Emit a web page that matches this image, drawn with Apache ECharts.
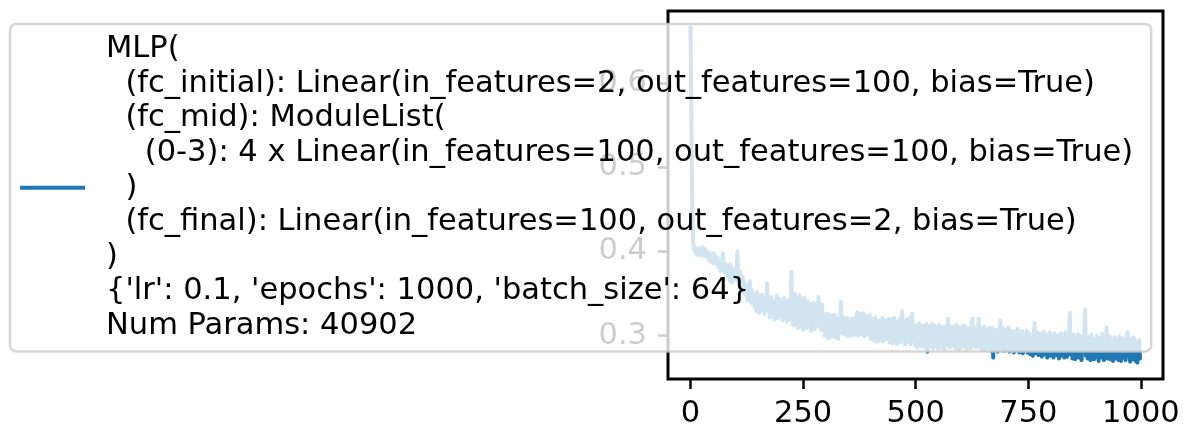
<!DOCTYPE html>
<html>
<head>
<meta charset="utf-8">
<script src="https://cdn.jsdelivr.net/npm/echarts@6/dist/echarts.min.js"></script>
<style>
  html, body { margin: 0; padding: 0; background: #fff; }
  #chart { width: 1190px; height: 440px; }
</style>
</head>
<body>
<div id="chart"></div>
<script>
// training loss, one reading every EPOCH_STEP epochs
// each row covers 20 epochs
const EPOCH_STEP = 2
const trainLoss = [
  0.667, 0.552, 0.448, 0.409, 0.401, 0.405, 0.397, 0.403, 0.396, 0.404,
  0.398, 0.402, 0.395, 0.405, 0.399, 0.396, 0.403, 0.394, 0.400, 0.397,
  0.390, 0.399, 0.388, 0.396, 0.392, 0.386, 0.398, 0.389, 0.394, 0.385,
  0.393, 0.381, 0.390, 0.377, 0.388, 0.383, 0.398, 0.376, 0.386, 0.379,
  0.384, 0.371, 0.380, 0.366, 0.385, 0.372, 0.363, 0.378, 0.368, 0.375,
  0.380, 0.366, 0.400, 0.371, 0.359, 0.376, 0.362, 0.356, 0.370, 0.351,
  0.364, 0.349, 0.360, 0.342, 0.357, 0.346, 0.365, 0.340, 0.355, 0.338,
  0.350, 0.335, 0.347, 0.329, 0.352, 0.338, 0.327, 0.344, 0.333, 0.349,
  0.330, 0.345, 0.326, 0.340, 0.336, 0.362, 0.331, 0.343, 0.322, 0.338,
  0.346, 0.325, 0.335, 0.319, 0.341, 0.328, 0.348, 0.321, 0.333, 0.344,
  0.324, 0.339, 0.318, 0.332, 0.345, 0.322, 0.336, 0.317, 0.342, 0.327,
  0.334, 0.319, 0.376, 0.330, 0.312, 0.338, 0.350, 0.314, 0.344, 0.309,
  0.335, 0.348, 0.311, 0.340, 0.326, 0.307, 0.345, 0.318, 0.332, 0.309,
  0.341, 0.314, 0.327, 0.338, 0.306, 0.330, 0.320, 0.339, 0.308, 0.325,
  0.336, 0.312, 0.346, 0.318, 0.330, 0.307, 0.337, 0.315, 0.326, 0.300,
  0.322, 0.308, 0.326, 0.297, 0.318, 0.311, 0.324, 0.299, 0.316, 0.305,
  0.325, 0.298, 0.313, 0.321, 0.296, 0.319, 0.307, 0.340, 0.303, 0.314,
  0.322, 0.301, 0.318, 0.305, 0.321, 0.299, 0.315, 0.310, 0.300, 0.320,
  0.304, 0.318, 0.301, 0.322, 0.308, 0.328, 0.300, 0.316, 0.326, 0.302,
  0.320, 0.305, 0.327, 0.299, 0.315, 0.323, 0.301, 0.318, 0.306, 0.325,
  0.296, 0.314, 0.320, 0.295, 0.309, 0.322, 0.293, 0.312, 0.301, 0.318,
  0.294, 0.316, 0.305, 0.321, 0.293, 0.310, 0.318, 0.296, 0.314, 0.302,
  0.320, 0.292, 0.311, 0.319, 0.291, 0.306, 0.321, 0.294, 0.313, 0.290,
  0.317, 0.301, 0.320, 0.292, 0.310, 0.329, 0.295, 0.316, 0.290, 0.312,
  0.319, 0.293, 0.308, 0.321, 0.290, 0.314, 0.326, 0.297, 0.311, 0.289,
  0.313, 0.298, 0.286, 0.310, 0.315, 0.290, 0.305, 0.287, 0.312, 0.296,
  0.309, 0.286, 0.314, 0.281, 0.301, 0.311, 0.288, 0.306, 0.314, 0.285,
  0.303, 0.312, 0.287, 0.298, 0.309, 0.285, 0.313, 0.292, 0.306, 0.286,
  0.310, 0.296, 0.284, 0.308, 0.312, 0.289, 0.320, 0.294, 0.286, 0.307,
  0.311, 0.288, 0.302, 0.309, 0.285, 0.313, 0.293, 0.306, 0.284, 0.310,
  0.296, 0.286, 0.308, 0.312, 0.287, 0.303, 0.310, 0.284, 0.305, 0.295,
  0.309, 0.285, 0.311, 0.320, 0.288, 0.302, 0.310, 0.286, 0.297, 0.308,
  0.320, 0.287, 0.304, 0.284, 0.309, 0.293, 0.311, 0.283, 0.300, 0.306,
  0.285, 0.309, 0.294, 0.282, 0.305, 0.310, 0.274, 0.298, 0.284, 0.307,
  0.292, 0.281, 0.305, 0.288, 0.318, 0.284, 0.303, 0.309, 0.282, 0.296,
  0.307, 0.283, 0.300, 0.310, 0.281, 0.295, 0.306, 0.284, 0.302, 0.280,
  0.305, 0.291, 0.283, 0.308, 0.296, 0.280, 0.303, 0.289, 0.306, 0.279,
  0.277, 0.299, 0.286, 0.306, 0.280, 0.294, 0.303, 0.278, 0.297, 0.288,
  0.276, 0.302, 0.315, 0.279, 0.290, 0.304, 0.277, 0.296, 0.283, 0.302,
  0.275, 0.293, 0.305, 0.278, 0.288, 0.301, 0.274, 0.297, 0.281, 0.304,
  0.276, 0.290, 0.299, 0.274, 0.303, 0.285, 0.277, 0.300, 0.291, 0.273,
  0.296, 0.303, 0.276, 0.289, 0.298, 0.274, 0.304, 0.282, 0.275, 0.299,
  0.286, 0.327, 0.278, 0.294, 0.273, 0.301, 0.288, 0.272, 0.297, 0.280,
  0.302, 0.274, 0.291, 0.299, 0.271, 0.293, 0.282, 0.300, 0.331, 0.276,
  0.290, 0.273, 0.298, 0.284, 0.271, 0.301, 0.279, 0.292, 0.272, 0.296,
  0.275, 0.300, 0.286, 0.270, 0.297, 0.281, 0.274, 0.302, 0.288, 0.271,
  0.294, 0.278, 0.310, 0.273, 0.290, 0.299, 0.272, 0.285, 0.296, 0.270,
  0.289, 0.298, 0.273, 0.283, 0.294, 0.271, 0.299, 0.280, 0.270, 0.292,
  0.297, 0.274, 0.287, 0.271, 0.293, 0.304, 0.276, 0.289, 0.269, 0.296,
  0.281, 0.272, 0.298, 0.285, 0.270, 0.293, 0.268, 0.287, 0.295, 0.273
]

const xTicks = [0, 250, 500, 750, 1000]
const yTicks = [0.3, 0.4, 0.5, 0.6]

const legendLines = [
  'MLP(',
  '  (fc_initial): Linear(in_features=2, out_features=100, bias=True)',
  '  (fc_mid): ModuleList(',
  '    (0-3): 4 x Linear(in_features=100, out_features=100, bias=True)',
  '  )',
  '  (fc_final): Linear(in_features=100, out_features=2, bias=True)',
  ')',
  "{'lr': 0.1, 'epochs': 1000, 'batch_size': 64}",
  'Num Params: 40902'
]

const FONT = 'DejaVu Sans'
const LINE_BLUE = '#1f77b4'

const lossPoints = trainLoss.map((v, i) => [i * EPOCH_STEP, v])

const option = {
  animation: false,
  backgroundColor: '#fff',
  grid: {
    left: 668, right: 27, top: 11, bottom: 61,
    show: true,
    borderColor: '#000',
    borderWidth: 3,
    backgroundColor: 'transparent'
  },
  legend: {
    left: 10,
    top: 24,
    orient: 'vertical',
    padding: [8, 18, 8, 10],
    backgroundColor: 'rgba(255,255,255,0.8)',
    borderColor: 'rgba(204,204,204,0.8)',
    borderWidth: 2.5,
    borderRadius: 6,
    icon: 'rect',
    itemWidth: 65,
    itemHeight: 4,
    selectedMode: false,
    formatter: () => legendLines.join('\n'),
    textStyle: {
      fontFamily: FONT,
      fontSize: 30.5,
      lineHeight: 34.6,
      color: '#000',
      padding: [0, 0, 0, 16]
    }
  },
  xAxis: {
    type: 'value',
    min: -50,
    max: 1049,
    axisLine: { show: false, onZero: false },
    splitLine: { show: false },
    axisTick: {
      show: true,
      customValues: xTicks,
      length: 10,
      lineStyle: { color: '#000', width: 2.5 }
    },
    axisLabel: {
      customValues: xTicks,
      margin: 20,
      color: '#000',
      fontFamily: FONT,
      fontSize: 30.5,
      formatter: v => String(v)
    }
  },
  yAxis: {
    type: 'value',
    min: 0.2485,
    max: 0.686,
    axisLine: { show: false, onZero: false },
    splitLine: { show: false },
    axisTick: {
      show: true,
      customValues: yTicks,
      length: 10,
      lineStyle: { color: '#000', width: 2.5 }
    },
    axisLabel: {
      customValues: yTicks,
      margin: 21,
      color: '#000',
      fontFamily: FONT,
      fontSize: 30.5,
      formatter: v => v.toFixed(1)
    }
  },
  series: [
    {
      name: 'MLP',
      type: 'line',
      data: lossPoints,
      showSymbol: false,
      symbol: 'none',
      clip: true,
      lineStyle: { color: LINE_BLUE, width: 4, cap: 'round', join: 'round' },
      itemStyle: { color: LINE_BLUE }
    }
  ]
}

const chart = echarts.init(document.getElementById('chart'), null, { renderer: 'canvas' })
chart.setOption(option)
</script>
</body>
</html>
